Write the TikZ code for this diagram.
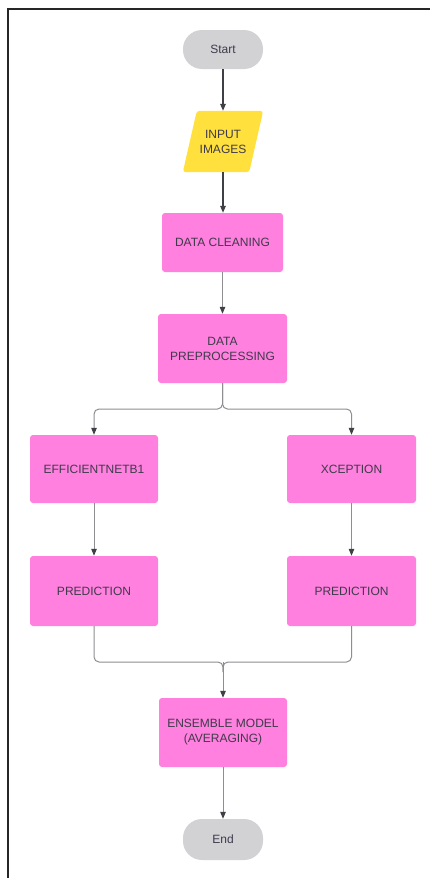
\documentclass[tikz,border=0pt]{standalone}
\usepackage{fontspec}
\setmainfont{Liberation Sans}
\usetikzlibrary{arrows.meta,backgrounds,calc}
\definecolor{pinkbox}{HTML}{FF80DE}
\definecolor{yellowbox}{HTML}{FFE03C}
\definecolor{graybox}{HTML}{D2D2D5}
\definecolor{txt}{HTML}{3E3A4C}
\definecolor{conngray}{HTML}{8E8E92}
\definecolor{tipgray}{HTML}{3F3F46}
\tikzset{
  procbox/.style={fill=pinkbox, rounded corners=3pt, align=center, text=txt,
    font=\fontsize{12}{15}\selectfont, inner sep=0pt},
  termbox/.style={fill=graybox, rounded corners=19pt, minimum width=80pt, align=center,
    text=txt, font=\fontsize{12}{15}\selectfont, inner sep=0pt},
  conn/.style={draw=conngray, line width=1pt, -{Triangle[width=5.5pt,length=7pt,color=tipgray]}},
  darkconn/.style={draw=tipgray, line width=1.4pt, -{Triangle[width=5.5pt,length=7pt,color=tipgray]}},
  plainconn/.style={draw=conngray, line width=1pt},
}
\begin{document}
\begin{tikzpicture}[x=1pt,y=-1pt]
\useasboundingbox (0,0) rectangle (430,878);
\draw[line width=2.2pt, black!85] (8,878) -- (8,9) -- (430,9);

\node[termbox, minimum height=39pt] (start) at (223,49.5) {Start};
\node[align=center, text=txt, font=\fontsize{12}{15}\selectfont, minimum width=66pt, minimum height=61pt, inner sep=0pt] (in) at (223,141.5) {INPUT\\IMAGES};
\begin{pgfonlayer}{background}
\fill[white] (0,0) rectangle (430,878);
\fill[yellowbox, rounded corners=3pt] ($(in.north west)+(7pt,0)$) -- ($(in.north east)+(7pt,0)$) -- ($(in.south east)+(-7pt,0)$) -- ($(in.south west)+(-7pt,0)$) -- cycle;
\end{pgfonlayer}
\node[procbox, minimum width=121pt, minimum height=59pt] (clean) at (222.5,242.5) {DATA CLEANING};
\node[procbox, minimum width=129pt, minimum height=69pt] (prep) at (222.5,348.5) {DATA\\PREPROCESSING};
\node[procbox, minimum width=128pt, minimum height=68pt] (eff) at (94,469) {EFFICIENTNETB1};
\node[procbox, minimum width=129pt, minimum height=68pt] (xc) at (351.5,469) {XCEPTION};
\node[procbox, minimum width=128pt, minimum height=70pt] (pl) at (94,591) {PREDICTION};
\node[procbox, minimum width=129pt, minimum height=70pt] (pr) at (351.5,591) {PREDICTION};
\node[procbox, minimum width=128pt, minimum height=69pt] (ens) at (223,732.5) {ENSEMBLE MODEL\\(AVERAGING)};
\node[termbox, minimum height=41pt] (end) at (223,839.5) {End};

\coordinate (split) at (222.5,409);
\coordinate (merge) at (223,662);

\draw[darkconn] (start) -- (in);
\draw[darkconn] (in) -- (clean.north -| in.south);
\draw[conn] (clean) -- (prep);
\draw[conn, rounded corners=5pt] (prep.south) -- (split) -| (eff.north);
\draw[conn, rounded corners=5pt] (prep.south) -- (split) -| (xc.north);
\draw[conn] (eff) -- (pl);
\draw[conn] (xc) -- (pr);
\draw[plainconn, rounded corners=5pt] (pl.south) |- (merge) -- ($(merge)+(0,10)$);
\draw[plainconn, rounded corners=5pt] (pr.south) |- (merge) -- ($(merge)+(0,10)$);
\draw[conn] (merge) -- (ens.north);
\draw[conn] (ens) -- (end);
\end{tikzpicture}
\end{document}
